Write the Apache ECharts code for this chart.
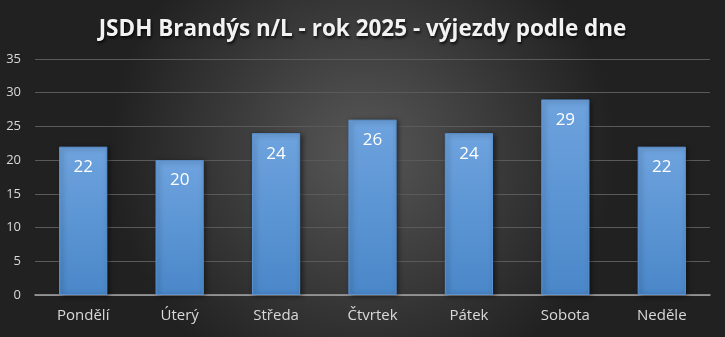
<!DOCTYPE html>
<html><head><meta charset="utf-8">
<script src="https://cdn.jsdelivr.net/npm/echarts@6/dist/echarts.min.js"></script>
<style>html,body{margin:0;padding:0;background:#333}#c{width:725px;height:337px}</style>
</head><body><div id="c"></div>
<script>
const categories = ['Pondělí','Úterý','Středa','Čtvrtek','Pátek','Sobota','Neděle'];
const values = [22, 20, 24, 26, 24, 29, 22];
const yTicks = {min: 0, max: 35, interval: 5};
const titleText = 'JSDH Brandýs n/L - rok 2025 - výjezdy podle dne';

const chart = echarts.init(document.getElementById('c'), null, {renderer: 'canvas'});
chart.setOption({
  backgroundColor: {
    type: 'radial', x: 0.5, y: 0.45, r: 0.75,
    colorStops: [{offset: 0, color: '#575757'}, {offset: 1, color: '#212121'}]
  },
  title: {
    text: titleText, left: 'center', top: 13,
    textStyle: {color: '#f2f2f2', fontSize: 22.5, fontWeight: 'bold', fontFamily: 'Open Sans',
      textShadowColor: 'rgba(0,0,0,0.8)', textShadowBlur: 3, textShadowOffsetX: 1, textShadowOffsetY: 2}
  },
  grid: {left: 35, right: 15, top: 59, bottom: 42},
  xAxis: {
    type: 'category', data: categories,
    axisLine: {lineStyle: {color: '#a6a6a6', width: 1.5}},
    axisTick: {show: false},
    axisLabel: {color: '#d9d9d9', fontSize: 15, fontFamily: 'Open Sans', margin: 13}
  },
  yAxis: {
    type: 'value', min: yTicks.min, max: yTicks.max, interval: yTicks.interval,
    axisLine: {show: false}, axisTick: {show: false},
    splitLine: {lineStyle: {color: '#5a5a5a', width: 1}},
    axisLabel: {color: '#d9d9d9', fontSize: 13, fontFamily: 'Open Sans', margin: 14}
  },
  series: [{
    type: 'bar', data: values, barWidth: '50%',
    itemStyle: {
      color: {type: 'linear', x: 0, y: 0, x2: 0, y2: 1,
        colorStops: [{offset: 0, color: '#6ea3de'}, {offset: 1, color: '#4a87c9'}]},
      borderColor: '#5b93d3', borderWidth: 1,
      shadowColor: 'rgba(0,0,0,0.5)', shadowBlur: 5, shadowOffsetX: 2, shadowOffsetY: 1
    },
    label: {show: true, position: 'insideTop', distance: 12, color: '#ffffff', fontSize: 17, fontFamily: 'Open Sans'}
  }]
});
</script></body></html>
